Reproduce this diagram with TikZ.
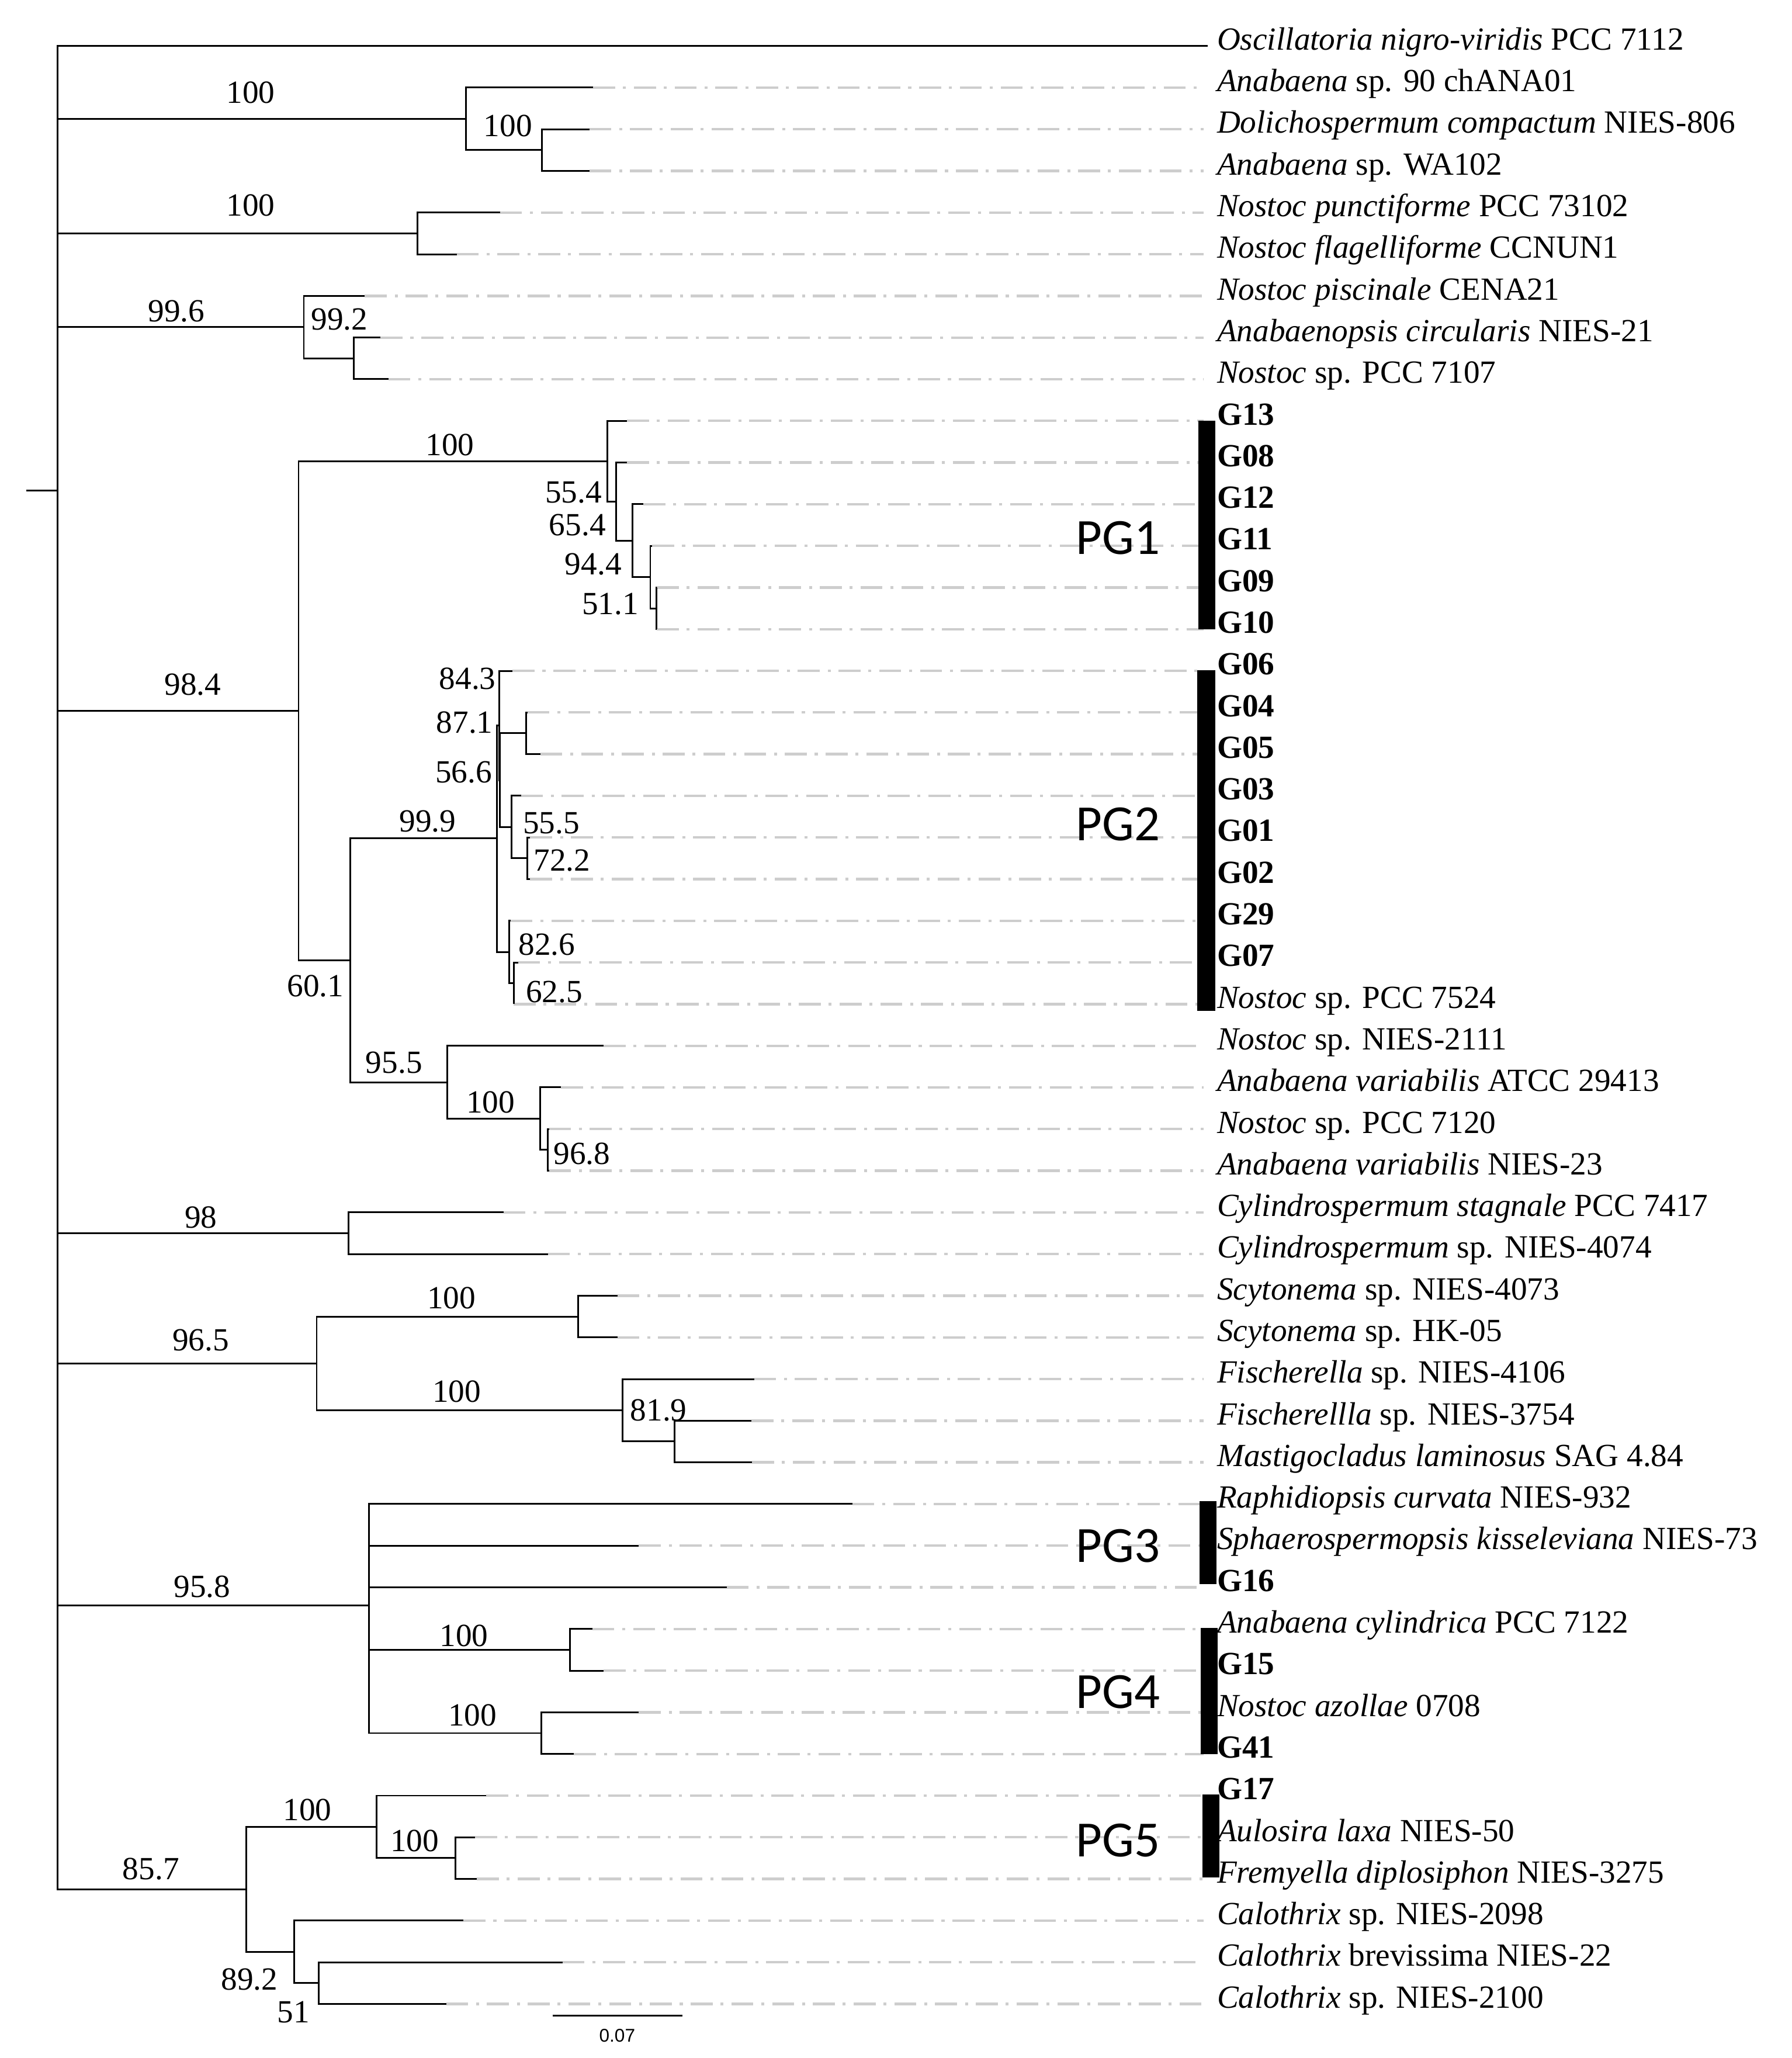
\documentclass[tikz,border=0pt]{standalone}
\usepackage{fontspec}
\setmainfont{Liberation Serif}
\newfontfamily\pgfamily{Carlito}
\newfontfamily\barfamily{Liberation Sans}
\definecolor{guidegray}{RGB}{205,205,205}
\begin{document}
\begin{tikzpicture}[x=0.02cm, y=-0.02cm]
  \tikzset{
    br/.style={line width=0.75pt},
    guide/.style={guidegray, line width=1.1pt, dash pattern=on 0.334cm off 0.121cm on 0.045cm off 0.121cm, shorten >=0.2cm},
    taxon/.style={anchor=base west, inner sep=0pt, font=\fontsize{14}{17}\selectfont},
    bs/.style={inner sep=0pt, font=\fontsize{14}{17}\selectfont},
    pg/.style={inner sep=0pt, font=\pgfamily\fontsize{22}{26}\selectfont},
    grp/.style={fill=black}
  }
  \useasboundingbox (0,0) rectangle (1365,1568);

  % leaves
  \coordinate (e1) at (920,35);
  \node[taxon] (t1) at (927,38) {\textit{Oscillatoria nigro-viridis} PCC 7112};
  \foreach \i/\xe/\txt in {
    2/452/{\textit{Anabaena} sp. 90 chANA01},
    3/449/{\textit{Dolichospermum compactum} NIES-806},
    4/449/{\textit{Anabaena} sp. WA102},
    5/381/{\textit{Nostoc punctiforme} PCC 73102},
    6/348/{\textit{Nostoc flagelliforme} CCNUN1},
    7/278/{\textit{Nostoc piscinale} CENA21},
    8/290/{\textit{Anabaenopsis circularis} NIES-21},
    9/296/{\textit{Nostoc} sp. PCC 7107},
    10/477.7/{\textbf{G13}},
    11/477.7/{\textbf{G08}},
    12/490.3/{\textbf{G12}},
    13/497/{\textbf{G11}},
    14/500.5/{\textbf{G09}},
    15/500.5/{\textbf{G10}},
    16/390.6/{\textbf{G06}},
    17/402/{\textbf{G04}},
    18/411.8/{\textbf{G05}},
    19/397/{\textbf{G03}},
    20/404/{\textbf{G01}},
    21/404/{\textbf{G02}},
    22/389/{\textbf{G29}},
    23/394.8/{\textbf{G07}},
    24/391.4/{\textit{Nostoc} sp. PCC 7524},
    25/460/{\textit{Nostoc} sp. NIES-2111},
    26/427.4/{\textit{Anabaena variabilis} ATCC 29413},
    27/418.3/{\textit{Nostoc} sp. PCC 7120},
    28/418.3/{\textit{Anabaena variabilis} NIES-23},
    29/383.7/{\textit{Cylindrospermum stagnale} PCC 7417},
    30/417.5/{\textit{Cylindrospermum} sp. NIES-4074},
    31/470.4/{\textit{Scytonema} sp. NIES-4073},
    32/470.4/{\textit{Scytonema} sp. HK-05},
    33/574.6/{\textit{Fischerella} sp. NIES-4106},
    34/572.6/{\textit{Fischerellla} sp. NIES-3754},
    35/573/{\textit{Mastigocladus laminosus} SAG 4.84},
    36/649.5/{\textit{Raphidiopsis curvata} NIES-932},
    37/486.8/{\textit{Sphaerospermopsis kisseleviana} NIES-73},
    38/553.7/{\textbf{G16}},
    39/451.4/{\textit{Anabaena cylindrica} PCC 7122},
    40/460/{\textbf{G15}},
    41/486.8/{\textit{Nostoc azollae} 0708},
    42/437.4/{\textbf{G41}},
    43/370.5/{\textbf{G17}},
    44/362/{\textit{Aulosira laxa} NIES-50},
    45/363.4/{\textit{Fremyella diplosiphon} NIES-3275},
    46/353.2/{\textit{Calothrix} sp. NIES-2098},
    47/428.6/{\textit{Calothrix} brevissima NIES-22},
    48/340/{\textit{Calothrix} sp. NIES-2100}}{
    \pgfmathsetmacro\yy{35+(\i-1)*31.74}
    \coordinate (e\i) at (\xe,\yy);
    \node[taxon] (t\i) at (927,\yy+3) {\txt};
    \draw[guide] (e\i) -- (e\i -| t\i.west);
  }

  % internal nodes
  \coordinate (stem) at (20,373.7);
  \coordinate (root) at (44,373.7);
  \coordinate (nA) at (355,90.5);
  \coordinate (nAb) at (413,114.35);
  \coordinate (nB) at (318,177.85);
  \coordinate (nC) at (231.5,249.2);
  \coordinate (nCb) at (269.5,273.05);
  \coordinate (n984) at (227.5,541.5);
  \coordinate (p100) at (462.9,351.4);
  \coordinate (p554) at (469.3,382.15);
  \coordinate (p654) at (481.8,411.9);
  \coordinate (p944) at (495.5,439.7);
  \coordinate (p511) at (500,463.5);
  \coordinate (n601) at (266.8,731.6);
  \coordinate (n999) at (378.5,638.65);
  \coordinate (n843) at (380.4,552.8);
  \coordinate (n566) at (380.9,594.4);
  \coordinate (n871) at (400.7,558.7);
  \coordinate (n555) at (389.6,630.1);
  \coordinate (n722) at (401.7,653.9);
  \coordinate (n826) at (388.2,725.35);
  \coordinate (n625) at (391.4,749.15);
  \coordinate (n955) at (340.8,824.55);
  \coordinate (n100c) at (411.5,852.3);
  \coordinate (n968) at (417.5,876.1);
  \coordinate (n98) at (265.6,939.55);
  \coordinate (n965) at (241.3,1038.8);
  \coordinate (nScy) at (440.6,1003.05);
  \coordinate (nFis) at (474.4,1074.5);
  \coordinate (n819) at (514.1,1098.25);
  \coordinate (n958) at (281.1,1223);
  \coordinate (nCyl) at (434.4,1256.95);
  \coordinate (nAzo) at (412.3,1320.45);
  \coordinate (n857) at (187.5,1439.5);
  \coordinate (n100e) at (287,1391.9);
  \coordinate (n100f) at (347.1,1415.7);
  \coordinate (n892) at (224.1,1487.1);
  \coordinate (n51) at (242.8,1510.9);

  % branches
  \draw[br] (stem) -- (root);
  \foreach \p/\c in {root/e1, root/nA, root/nB, root/nC, root/n984, root/n98, root/n965, root/n958, root/n857,
    nA/e2, nA/nAb, nAb/e3, nAb/e4, nB/e5, nB/e6, nC/e7, nC/nCb, nCb/e8, nCb/e9,
    n984/p100, n984/n601, p100/e10, p100/p554, p554/e11, p554/p654, p654/e12, p654/p944, p944/e13, p944/p511, p511/e14, p511/e15,
    n601/n999, n601/n955, n999/n843, n999/n826, n843/e16, n843/n566, n566/n871, n566/n555, n871/e17, n871/e18,
    n555/e19, n555/n722, n722/e20, n722/e21, n826/e22, n826/n625, n625/e23, n625/e24,
    n955/e25, n955/n100c, n100c/e26, n100c/n968, n968/e27, n968/e28,
    n98/e29, n98/e30, n965/nScy, n965/nFis, nScy/e31, nScy/e32, nFis/e33, nFis/n819, n819/e34, n819/e35,
    n958/e36, n958/e37, n958/e38, n958/nCyl, n958/nAzo, nCyl/e39, nCyl/e40, nAzo/e41, nAzo/e42,
    n857/n100e, n857/n892, n100e/e43, n100e/n100f, n100f/e44, n100f/e45, n892/e46, n892/n51, n51/e47, n51/e48}
    \draw[br] (\p) |- (\c);

  % support values
  \foreach \x/\y/\v [count=\k] in {191/70.6/100, 387/96.1/100, 191/156.4/100, 134.4/237.2/99.6, 258.7/243.4/99.2,
    342.8/339/100, 146.9/521.5/98.4, 436.9/375.3/55.4, 440/400/65.4, 452/430/94.4, 465/460.4/51.1,
    356.2/517.3/84.3, 354/550.3/87.1, 353.3/588.5/56.6, 325.8/625.8/99.9, 420/627.4/55.5, 428.2/655.6/72.2,
    416.6/719.7/82.6, 422.3/755.6/62.5, 240.4/751.4/60.1, 300.2/809.8/95.5, 373.8/839.7/100, 443.3/879.2/96.8,
    153/927.4/98, 153/1020.9/96.5, 344/988.8/100, 348/1060.4/100, 501.8/1074.5/81.9,
    154/1209.1/95.8, 353.5/1246.3/100, 360/1306.9/100, 115/1423.8/85.7, 234.2/1379/100, 316/1402.7/100,
    190/1508/89.2, 223.6/1533.1/51}
    \node[bs] (bs\k) at (\x,\y) {\v};

  % groups
  \fill[grp] (913,320.7) rectangle (926,479.4);
  \fill[grp] (912,510.6) rectangle (926,770);
  \fill[grp] (914,1143.5) rectangle (927,1207);
  \fill[grp] (915,1240.5) rectangle (928,1336.5);
  \fill[grp] (916,1367) rectangle (929,1430.5);
  \node[pg] (pg1) at (852,410) {PG1};
  \node[pg] (pg2) at (852,628) {PG2};
  \node[pg] (pg3) at (852,1178) {PG3};
  \node[pg] (pg4) at (852,1289) {PG4};
  \node[pg] (pg5) at (852,1402) {PG5};

  % scale
  \coordinate (sb1) at (421,1535.7);
  \coordinate (sb2) at (520,1535.7);
  \draw[br] (sb1) -- (sb2);
  \node[inner sep=0pt, font=\barfamily\fontsize{8}{9}\selectfont] (sbl) at (470.3,1551) {0.07};
\end{tikzpicture}
\end{document}
